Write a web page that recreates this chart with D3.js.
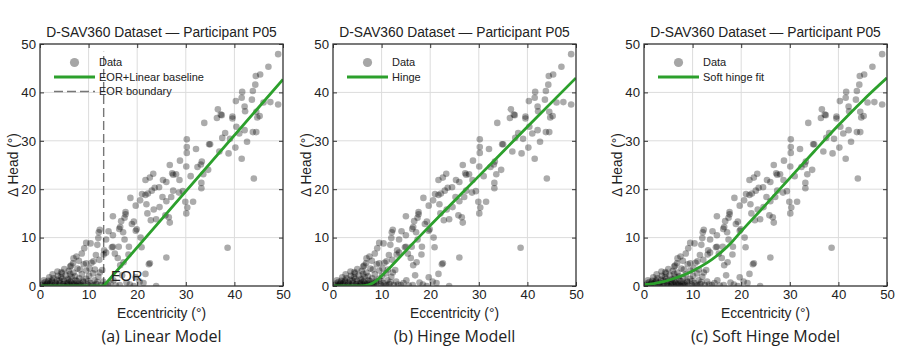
<!DOCTYPE html>
<html>
<head>
<meta charset="utf-8">
<script src="https://cdn.jsdelivr.net/npm/d3@7"></script>
<style>
  body { margin: 0; background: #fff; }
  text { font-family: "Liberation Sans", Arial, sans-serif; fill: #222; }
  .caption { font-family: "Open Sans", "Noto Sans", sans-serif; }
</style>
</head>
<body>
<svg id="chart" width="897" height="352"></svg>
<script>
// eccentricity (deg), delta head (deg) -- same participant data in all panels
var points = [
  [49.0,47.9],[47.0,45.3],[45.3,43.7],[44.4,43.4],[44.3,41.6],[43.8,40.3],[41.6,40.1],[41.5,38.9],
  [40.3,38.2],[42.1,37.1],[42.2,36.1],[43.6,38.5],[44.5,36.0],[45.2,35.1],[44.7,34.8],[49.0,37.5],
  [47.4,38.0],[43.8,31.8],[44.5,31.8],[42.1,32.2],[40.4,32.9],[39.6,35.0],[39.6,34.6],[37.4,35.3],
  [37.2,35.4],[36.6,36.5],[36.4,34.7],[33.8,33.7],[37.5,30.6],[38.8,27.4],[40.2,28.6],[41.5,26.3],
  [44.0,22.2],[38.6,7.9],[35.0,29.3],[34.8,29.3],[32.4,24.6],[33.1,25.1],[33.3,25.7],[33.6,23.1],
  [33.2,21.3],[33.2,20.2],[32.1,28.3],[30.2,30.3],[30.2,28.7],[30.2,27.5],[30.1,24.7],[29.9,17.4],
  [30.3,16.2],[30.1,15.0],[31.5,17.4],[28.8,25.9],[26.7,25.0],[27.2,23.3],[27.4,23.0],[28.0,23.1],
  [28.7,21.9],[28.6,19.3],[27.4,19.7],[27.0,18.4],[26.0,21.5],[26.0,17.5],[25.2,18.4],[24.5,20.4],
  [23.6,20.3],[23.3,23.2],[23.0,19.7],[22.6,22.4],[21.7,21.9],[22.2,19.1],[21.7,18.8],[21.9,16.9],
  [22.1,15.0],[23.4,15.8],[22.8,13.6],[23.9,13.8],[25.8,14.6],[26.5,14.2],[26.7,13.1],[26.0,5.9],
  [22.6,4.7],[22.4,4.5],[21.0,19.0],[20.6,17.7],[19.7,16.6],[19.7,11.4],[19.9,11.7],[20.7,10.0],
  [20.9,8.0],[18.6,18.2],[17.6,15.3],[17.6,14.8],[17.4,14.1],[16.7,13.4],[16.5,12.2],[17.1,11.1],
  [17.4,9.6],[18.3,8.1],[18.2,6.5],[17.2,4.9],[16.5,4.3],[16.9,2.2],[15.0,14.4],[15.0,10.5],
  [15.0,8.1],[15.4,6.7],[16.2,8.1],[16.0,5.8],[14.1,11.3],[13.6,9.6],[13.6,6.9],[13.1,6.5],
  [12.1,11.1],[12.0,9.9],[11.8,8.5],[11.5,6.4],[11.0,5.1],[10.4,8.8],[10.2,3.6],[11.3,3.4],
  [9.5,8.9],[9.1,7.8],[8.6,6.7],[7.5,6.1],[8.0,5.2],[6.9,5.7],[6.8,4.7],[6.2,4.0],
  [9.5,4.7],[8.2,3.4],[9.5,3.2],[10.9,2.6],[12.3,2.8],[12.8,3.3],[15.1,1.2],[16.4,0.2],
  [14.0,0.2],[17.8,0.7],[20.5,0.9],[21.3,0.6],[23.9,0.0],[21.7,2.5],[19.7,1.8],[12.3,11.6],
  [14.8,8.0],[13.2,7.4],[16.3,11.8],[18.9,12.8],[19.3,13.3],[24.6,16.3],[25.3,21.9],[29.4,19.6],
  [31.0,22.7],[34.6,24.0],[36.9,27.8],[38.1,31.6],[39.1,30.4],[41.0,31.5],[42.6,29.8],[46.0,37.9],
  [0.3,0.2],[0.6,0.5],[0.9,0.1],[1.1,0.8],[1.4,0.3],[1.7,1.1],[2.0,0.4],[2.2,0.0],
  [2.5,0.9],[2.8,1.6],[3.0,0.2],[3.2,0.7],[3.5,1.3],[3.7,2.1],[3.9,0.1],[4.1,0.6],
  [4.3,1.8],[4.5,2.6],[4.7,0.3],[4.9,1.0],[5.1,0.0],[5.3,2.2],[5.5,0.5],[5.7,1.4],
  [5.9,3.1],[6.1,0.2],[6.3,0.9],[6.5,1.9],[6.7,0.1],[6.9,2.8],[7.1,0.6],[7.3,1.2],
  [7.5,0.0],[7.7,3.6],[7.9,0.4],[8.1,1.6],[8.3,0.2],[8.6,2.4],[8.9,0.8],[9.2,0.1],
  [9.5,1.5],[9.8,0.3],[10.1,2.1],[10.4,0.6],[10.8,0.0],[11.2,1.2],[11.6,0.4],[12.0,1.9],
  [12.5,0.2],[13.0,0.9],[1.0,0.0],[1.5,0.6],[2.4,1.2],[3.3,0.0],[4.0,1.1],[4.8,0.4],
  [5.6,0.1],[6.0,1.3],[6.6,0.5],[7.2,2.0],[8.0,0.0],[8.8,1.1],[3.6,3.0],[5.0,3.5],
  [6.4,4.2],[2.6,2.4],[4.4,2.9],[1.9,1.8],[0.8,1.2],[9.0,4.5],[10.6,4.8],[12.2,5.4],
  [11.8,0.8],[13.4,0.3],[14.5,0.6],[15.6,0.1],[18.5,0.3],[19.3,0.0],[2.1,0.6],[3.4,0.4],
  [4.6,1.5],[5.8,0.7],[7.0,0.3],[8.4,0.5],[9.9,1.0],[11.0,0.2],[6.2,2.5],[7.6,1.0]
];

var linearFit = [[0, 0], [13.1, 0], [50, 42.7]];
var eorBoundary = 13.1;
var hingeFit = [[0,0],[5,0],[6.5,0.05],[7.5,0.3],[8.5,0.8],[9.5,1.6],[10.5,2.6],[12,4.1],
                [15,7.3],[20,12.5],[30,22.7],[40,32.9],[50,43.0]];
var softHingeFit = [[0,0.3],[2,0.5],[4,0.9],[6,1.5],[8,2.2],[10,3.1],[12,4.2],[14,5.5],
                    [16,7.1],[18,9.0],[20,11.3],[24.5,16.2],[30,22.3],[35,27.8],[40,33.2],
                    [45,38.3],[50,43.0]];

var titles = ["D-SAV360 Dataset \u2014 Participant P05",
              "D-SAV360 Dataset \u2014 Participant P05",
              "D-SAV360 Dataset \u2014 Participant P05"];
var captions = ["(a) Linear Model", "(b) Hinge Modell", "(c) Soft Hinge Model"];
var fitLabels = ["EOR+Linear baseline", "Hinge", "Soft hinge fit"];
var fits = [linearFit, hingeFit, softHingeFit];
var tickValues = [0, 10, 20, 30, 40, 50];

var svg = d3.select("#chart"),
    panelLeft = [40, 333, 644],
    plotW = 243, plotTop = 44, plotH = 242,
    green = "#2ca02c";

var defs = svg.append("defs");

fits.forEach(function (fit, i) {
    var x = d3.scaleLinear().domain([0, 50]).range([0, plotW]),
        y = d3.scaleLinear().domain([0, 50]).range([plotH, 0]);
    var g = svg.append("g").attr("transform", "translate(" + panelLeft[i] + "," + plotTop + ")");

    defs.append("clipPath").attr("id", "clip" + i)
        .append("rect").attr("width", plotW).attr("height", plotH);

    // grid
    var grid = g.append("g").attr("stroke", "#dcdcdc").attr("stroke-width", 1);
    grid.selectAll(".gx").data(tickValues.slice(1, -1)).enter().append("line")
        .attr("x1", x).attr("x2", x).attr("y1", 0).attr("y2", plotH);
    grid.selectAll(".gy").data(tickValues.slice(1, -1)).enter().append("line")
        .attr("y1", y).attr("y2", y).attr("x1", 0).attr("x2", plotW);

    var plot = g.append("g").attr("clip-path", "url(#clip" + i + ")");

    if (i === 0) {
        plot.append("line")
            .attr("x1", x(eorBoundary)).attr("x2", x(eorBoundary))
            .attr("y1", y(0)).attr("y2", y(48.4))
            .attr("stroke", "#777").attr("stroke-width", 1.4)
            .attr("stroke-dasharray", "9,4");
    }

    plot.append("g").selectAll("circle").data(points).enter().append("circle")
        .attr("cx", function (d) { return x(d[0]); })
        .attr("cy", function (d) { return y(d[1]); })
        .attr("r", 3.3)
        .attr("fill", "#000").attr("fill-opacity", 0.33);

    var line = d3.line()
        .x(function (d) { return x(d[0]); })
        .y(function (d) { return y(d[1]); })
        .curve(i === 0 ? d3.curveLinear : d3.curveMonotoneX);
    plot.append("path").datum(fit).attr("d", line)
        .attr("fill", "none").attr("stroke", green).attr("stroke-width", 2.8);

    if (i === 0) {
        g.append("text").attr("x", x(14.6)).attr("y", y(1.0))
            .attr("font-size", 14.5).attr("fill", "#333").text("EOR");
    }

    // axes, ticks pointing inward
    var bottom = g.append("g").attr("transform", "translate(0," + plotH + ")")
        .call(d3.axisBottom(x).tickValues(tickValues).tickSize(-4).tickPadding(4));
    var left = g.append("g")
        .call(d3.axisLeft(y).tickValues(tickValues).tickSize(-4).tickPadding(4));
    var top = g.append("g")
        .call(d3.axisTop(x).tickValues(tickValues).tickSize(-4).tickFormat(""));
    var right = g.append("g").attr("transform", "translate(" + plotW + ",0)")
        .call(d3.axisRight(y).tickValues(tickValues).tickSize(-4).tickFormat(""));
    [bottom, left, top, right].forEach(function (a) {
        a.select(".domain").remove();
        a.selectAll(".tick line").attr("stroke", "#333").attr("stroke-width", 1);
        a.selectAll(".tick text").attr("font-size", 13.2).attr("fill", "#222")
            .attr("font-family", "Liberation Sans, Arial, sans-serif");
    });

    g.append("rect").attr("width", plotW).attr("height", plotH)
        .attr("fill", "none").attr("stroke", "#333").attr("stroke-width", 1.3);

    // legend
    var leg = g.append("g").attr("font-size", 11);
    leg.append("circle").attr("cx", 34.5).attr("cy", 18.5).attr("r", 4.6)
        .attr("fill", "#000").attr("fill-opacity", 0.35);
    leg.append("text").attr("x", 59).attr("y", 18.5).attr("dy", "0.35em").text("Data");
    leg.append("line").attr("x1", 14).attr("x2", 55).attr("y1", 33).attr("y2", 33)
        .attr("stroke", green).attr("stroke-width", 2.8);
    leg.append("text").attr("x", 59).attr("y", 33).attr("dy", "0.35em").text(fitLabels[i]);
    if (i === 0) {
        leg.append("line").attr("x1", 14).attr("x2", 55).attr("y1", 47.5).attr("y2", 47.5)
            .attr("stroke", "#777").attr("stroke-width", 1.4).attr("stroke-dasharray", "9,4");
        leg.append("text").attr("x", 59).attr("y", 47.5).attr("dy", "0.35em").text("EOR boundary");
    }

    // titles and labels
    g.append("text").attr("x", plotW / 2).attr("y", -7).attr("text-anchor", "middle")
        .attr("font-size", 13.8).text(titles[i]);
    g.append("text").attr("x", plotW / 2).attr("y", plotH + 32).attr("text-anchor", "middle")
        .attr("font-size", 13.8).text("Eccentricity (\u00b0)");
    g.append("text").attr("transform", "translate(-22," + (plotH / 2) + ") rotate(-90)")
        .attr("text-anchor", "middle").attr("font-size", 13.8).text("\u0394 Head (\u00b0)");
    g.append("text").attr("class", "caption").attr("x", plotW / 2).attr("y", plotH + 56)
        .attr("text-anchor", "middle").attr("font-size", 16).text(captions[i]);
});
</script>
</body>
</html>
